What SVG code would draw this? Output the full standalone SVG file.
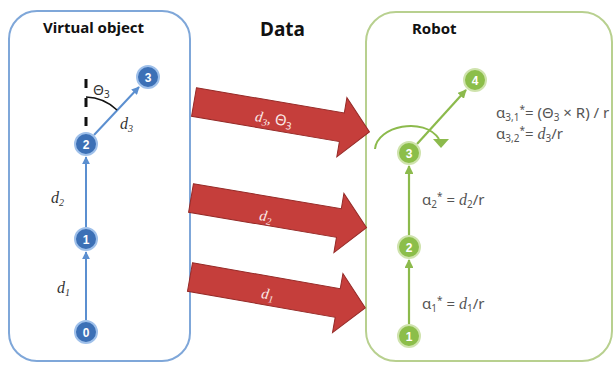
<svg xmlns="http://www.w3.org/2000/svg" width="614" height="365" viewBox="0 0 614 365">
  <style>
    .title { font-family: "Noto Sans", "Open Sans", sans-serif; font-weight: bold; fill: #111; }
    .frame-blue { fill: #fff; stroke: #7fa7d9; stroke-width: 2; }
    .frame-green { fill: #fff; stroke: #b8d08f; stroke-width: 2; }
    .nb { fill: #3c70b6; stroke: #9fc0ea; stroke-width: 2; }
    .ng { fill: #8cbe4a; stroke: #cfe3ad; stroke-width: 2; }
    .num { font-family: "Liberation Sans", Arial, sans-serif; font-size: 12px; font-weight: bold; fill: #fff; text-anchor: middle; }
    .lb { stroke: #5b8fd0; stroke-width: 2; fill: none; }
    .lg { stroke: #8cba4c; stroke-width: 2.2; fill: none; }
    .math { font-family: "Liberation Serif", "DejaVu Serif", serif; font-style: italic; font-size: 16px; fill: #333; }
    .mathw { font-family: "Liberation Serif", "DejaVu Serif", serif; font-style: italic; font-size: 15px; fill: #fbe9e8; text-anchor: middle; }
    .up { font-style: normal; font-family: "Noto Sans", "Open Sans", sans-serif; }
    .eq { font-family: "Noto Sans", "Open Sans", sans-serif; font-size: 15px; fill: #555; }
    .eqi { font-family: "Liberation Serif", "DejaVu Serif", serif; font-style: italic; font-size: 16px; }
    .sub { font-size: 10px; }
    .red { fill: #c53e3b; stroke: #952a27; stroke-width: 1; }
  </style>
  <defs>
    <marker id="ab" viewBox="0 0 10 10" refX="9" refY="5" markerWidth="4" markerHeight="4" orient="auto">
      <path d="M0,0 L10,5 L0,10 Z" fill="#5b8fd0"/>
    </marker>
    <marker id="ag" viewBox="0 0 10 10" refX="9" refY="5" markerWidth="4" markerHeight="4" orient="auto">
      <path d="M0,0 L10,5 L0,10 Z" fill="#8cba4c"/>
    </marker>
    <!-- block arrow pointing +x, tail centred on the origin -->
    <polygon id="bigArrow" points="0,-14.5 150,-14.5 150,-30 178,0 150,30 150,14.5 0,14.5"/>
  </defs>

  <rect width="614" height="365" fill="#fff"/>

  <!-- frames -->
  <g id="virtual-object">
    <rect class="frame-blue" x="9" y="11" width="181" height="350" rx="28"/>
    <text class="title" x="43" y="33" font-size="15">Virtual object</text>
  </g>
  <g id="robot">
    <rect class="frame-green" x="366" y="12" width="246" height="349" rx="30"/>
    <text class="title" x="412" y="34" font-size="15">Robot</text>
  </g>
  <g id="data-title">
    <text class="title" x="260" y="36" font-size="19">Data</text>
  </g>

  <!-- connectors -->
  <g id="connectors">
    <!-- virtual object chain -->
    <line class="lb" x1="86" y1="320" x2="86" y2="252" marker-end="url(#ab)"/>
    <line class="lb" x1="86" y1="227" x2="86" y2="157" marker-end="url(#ab)"/>
    <line class="lb" x1="94" y1="135" x2="139" y2="87" marker-end="url(#ab)"/>
    <!-- reference direction and angle -->
    <line x1="86" y1="79" x2="86" y2="128" stroke="#111" stroke-width="3" stroke-dasharray="9 10"/>
    <path d="M86,97 A47,47 0 0 1 117,110" fill="none" stroke="#111" stroke-width="1.6"/>

    <!-- robot chain -->
    <line class="lg" x1="409" y1="324" x2="409" y2="260" marker-end="url(#ag)"/>
    <line class="lg" x1="409" y1="235" x2="409" y2="166" marker-end="url(#ag)"/>
    <line class="lg" x1="417" y1="144" x2="466" y2="90" marker-end="url(#ag)"/>
    <!-- rotation indicator -->
    <path d="M375,149 C377,126 424,116 439,139" fill="none" stroke="#8cba4c" stroke-width="2"/>
    <polygon points="433,139 449,139 441,148" fill="#8cba4c"/>

    <!-- data transfer arrows -->
    <use href="#bigArrow" class="red" transform="translate(194,102) rotate(9.7)"/>
    <use href="#bigArrow" class="red" transform="translate(191,198) rotate(9.6)"/>
    <use href="#bigArrow" class="red" transform="translate(190,277) rotate(10)"/>
    <text class="mathw" transform="translate(273,124) rotate(9)">d<tspan class="sub" dy="3">3</tspan><tspan dy="-3">, </tspan><tspan class="up">Θ</tspan><tspan class="sub up" dy="3">3</tspan></text>
    <text class="mathw" transform="translate(265,221) rotate(9)">d<tspan class="sub" dy="3">2</tspan></text>
    <text class="mathw" transform="translate(267,299) rotate(9)">d<tspan class="sub" dy="3">1</tspan></text>
  </g>

  <!-- labels of the virtual object -->
  <g id="vo-labels">
    <text class="math" x="93" y="95"><tspan class="up" font-size="14">Θ</tspan><tspan class="sub up" dy="3">3</tspan></text>
    <text class="math" x="120" y="129">d<tspan class="sub" dy="3">3</tspan></text>
    <text class="math" x="51" y="203">d<tspan class="sub" dy="3">2</tspan></text>
    <text class="math" x="57" y="293">d<tspan class="sub" dy="3">1</tspan></text>
  </g>

  <!-- virtual object nodes -->
  <g id="vo-node-0"><circle class="nb" cx="86" cy="332" r="11"/><text class="num" x="86" y="336.5">0</text></g>
  <g id="vo-node-1"><circle class="nb" cx="86" cy="239" r="11"/><text class="num" x="86" y="243.5">1</text></g>
  <g id="vo-node-2"><circle class="nb" cx="86" cy="144" r="11"/><text class="num" x="86" y="148.5">2</text></g>
  <g id="vo-node-3"><circle class="nb" cx="148" cy="77" r="11"/><text class="num" x="148" y="81.5">3</text></g>

  <!-- robot nodes -->
  <g id="rb-node-1"><circle class="ng" cx="409" cy="336" r="11"/><text class="num" x="409" y="340.5">1</text></g>
  <g id="rb-node-2"><circle class="ng" cx="409" cy="247" r="11"/><text class="num" x="409" y="251.5">2</text></g>
  <g id="rb-node-3"><circle class="ng" cx="409" cy="153" r="11"/><text class="num" x="409" y="157.5">3</text></g>
  <g id="rb-node-4"><circle class="ng" cx="475" cy="80" r="11"/><text class="num" x="475" y="84.5">4</text></g>

  <!-- joint equations -->
  <g id="equations">
    <text class="eq" x="496" y="118">α<tspan class="sub" dy="3">3,1</tspan><tspan class="sub" dy="-8">*</tspan><tspan dy="5">= (Θ</tspan><tspan class="sub" dy="3">3</tspan><tspan dy="-3"> × R) / r</tspan></text>
    <text class="eq" x="496" y="139">α<tspan class="sub" dy="3">3,2</tspan><tspan class="sub" dy="-8">*</tspan><tspan dy="5">= </tspan><tspan class="eqi">d</tspan><tspan class="sub" dy="3">3</tspan><tspan dy="-3">/r</tspan></text>
    <text class="eq" x="422" y="205">α<tspan class="sub" dy="3">2</tspan><tspan class="sub" dy="-8">*</tspan><tspan dy="5"> = </tspan><tspan class="eqi">d</tspan><tspan class="sub" dy="3">2</tspan><tspan dy="-3">/r</tspan></text>
    <text class="eq" x="422" y="309">α<tspan class="sub" dy="3">1</tspan><tspan class="sub" dy="-8">*</tspan><tspan dy="5"> = </tspan><tspan class="eqi">d</tspan><tspan class="sub" dy="3">1</tspan><tspan dy="-3">/r</tspan></text>
  </g>
</svg>
